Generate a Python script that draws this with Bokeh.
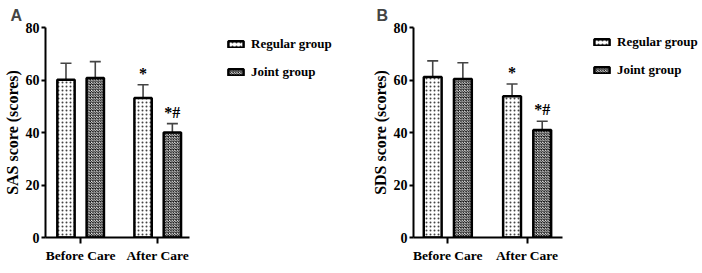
from bokeh.plotting import figure
from bokeh.layouts import row
from bokeh.models import (ColumnDataSource, Whisker, Legend, LegendItem, Range1d,
                          FixedTicker, TeeHead)
from bokeh.core.properties import value
from bokeh.embed import file_html
from bokeh.resources import INLINE

categories = ["Before Care", "After Care"]
cat_pos = [1, 2]
groups = ["Regular group", "Joint group"]

sas_regular = [60.1, 53.1]
sas_regular_upper = [66.4, 58.2]
sas_joint = [60.8, 40.0]
sas_joint_upper = [67.0, 43.4]
sas_marks_regular = ["", "*"]
sas_marks_joint = ["", "*#"]

sds_regular = [61.1, 53.8]
sds_regular_upper = [67.3, 58.5]
sds_joint = [60.4, 41.0]
sds_joint_upper = [66.6, 44.3]
sds_marks_regular = ["", "*"]
sds_marks_joint = ["", "*#"]

y_ticks = [0, 20, 40, 60, 80]

SERIF = "Liberation Serif"


def make_panel(letter, ylabel, reg, reg_up, joint, joint_up, mreg, mjoint,
               width, left, top, bottom, px_per_unit, first_tick_px, axis_len_px,
               legend_x, legend_y):
    frame_w = width - left
    x0 = 1 - first_tick_px / px_per_unit
    x1 = x0 + frame_w / px_per_unit
    axis_end = x0 + axis_len_px / px_per_unit

    p = figure(width=width, height=273, output_backend="svg", toolbar_location=None,
               x_range=Range1d(x0, x1), y_range=Range1d(0, 80),
               min_border_left=left, min_border_right=0,
               min_border_top=top, min_border_bottom=bottom)
    p.outline_line_color = None
    p.xgrid.visible = False
    p.ygrid.visible = False
    p.background_fill_color = "white"
    p.border_fill_color = "white"

    p.title.text = letter
    p.title.text_font = "Liberation Sans"
    p.title.text_font_style = "bold"
    p.title.text_font_size = "16px"
    p.title.align = "left"
    p.title.offset = -left + 2
    p.title.standoff = 8

    dodge = 0.19
    bw = 0.225
    xr = [c - dodge for c in cat_pos]
    xj = [c + dodge for c in cat_pos]
    src_r = ColumnDataSource(dict(x=xr, top=reg, upper=reg_up, mark=mreg))
    src_j = ColumnDataSource(dict(x=xj, top=joint, upper=joint_up, mark=mjoint))

    for src in (src_r, src_j):
        w = Whisker(source=src, base="x", lower="top", upper="upper",
                    line_color="#444444", line_width=1.6,
                    upper_head=TeeHead(size=11, line_color="#444444", line_width=1.6),
                    lower_head=None)
        p.add_layout(w)

    r_reg = p.vbar(x="x", top="top", width=bw, source=src_r, fill_color="white",
                   line_color="black", line_width=2.5,
                   hatch_pattern="dot", hatch_color="#444444", hatch_scale=4,
                   hatch_weight=1.0)
    r_joint = p.vbar(x="x", top="top", width=bw, source=src_j, fill_color="white",
                     line_color="black", line_width=2.5,
                     hatch_pattern="diagonal_cross", hatch_color="#111111",
                     hatch_scale=2.6, hatch_weight=1.1)

    for src in (src_r, src_j):
        p.text(x="x", y="upper", text="mark", source=src, text_align="center",
               text_baseline="bottom", y_offset=-3, text_font=value(SERIF),
               text_font_style="bold", text_font_size="16px", text_color="black")

    xa = p.xaxis[0]
    xa.bounds = (x0, axis_end)
    xa.ticker = FixedTicker(ticks=cat_pos)
    xa.major_label_overrides = {c: n for c, n in zip(cat_pos, categories)}
    xa.minor_tick_line_color = None
    xa.axis_line_width = 2
    xa.axis_line_color = "black"
    xa.major_tick_line_width = 2
    xa.major_tick_out = 6
    xa.major_tick_in = 0
    xa.major_label_text_font = SERIF
    xa.major_label_text_font_style = "bold"
    xa.major_label_text_font_size = "13.5px"
    xa.major_label_text_color = "black"
    xa.major_label_standoff = 4

    ya = p.yaxis[0]
    ya.ticker = FixedTicker(ticks=y_ticks)
    ya.minor_tick_line_color = None
    ya.axis_line_width = 2
    ya.axis_line_color = "black"
    ya.major_tick_line_width = 2
    ya.major_tick_out = 4
    ya.major_tick_in = 0
    ya.major_label_text_font = SERIF
    ya.major_label_text_font_style = "bold"
    ya.major_label_text_font_size = "14px"
    ya.major_label_text_color = "black"
    ya.major_label_standoff = 2
    ya.axis_label = ylabel
    ya.axis_label_text_font = SERIF
    ya.axis_label_text_font_style = "bold"
    ya.axis_label_text_font_size = "16px"
    ya.axis_label_text_color = "black"
    ya.axis_label_standoff = 2

    legend = Legend(items=[LegendItem(label=groups[0], renderers=[r_reg]),
                           LegendItem(label=groups[1], renderers=[r_joint])],
                    location=(legend_x, legend_y), padding=0, margin=0, spacing=8,
                    glyph_width=19, glyph_height=8, label_height=20,
                    label_standoff=6, border_line_color=None,
                    background_fill_alpha=0,
                    label_text_font=SERIF, label_text_font_style="bold",
                    label_text_font_size="13px", label_text_color="black")
    p.add_layout(legend, "center")
    return p


pA = make_panel("A", "SAS score (scores)", sas_regular, sas_regular_upper,
                sas_joint, sas_joint_upper, sas_marks_regular, sas_marks_joint,
                width=368, left=37, top=27, bottom=36, px_per_unit=79,
                first_tick_px=36, axis_len_px=148, legend_x=181, legend_y=155)
pB = make_panel("B", "SDS score (scores)", sds_regular, sds_regular_upper,
                sds_joint, sds_joint_upper, sds_marks_regular, sds_marks_joint,
                width=334, left=39, top=27, bottom=34, px_per_unit=81,
                first_tick_px=35, axis_len_px=152, legend_x=179, legend_y=157)

layout = row(pA, pB)
open("out.html", "w").write(file_html(layout, INLINE))
